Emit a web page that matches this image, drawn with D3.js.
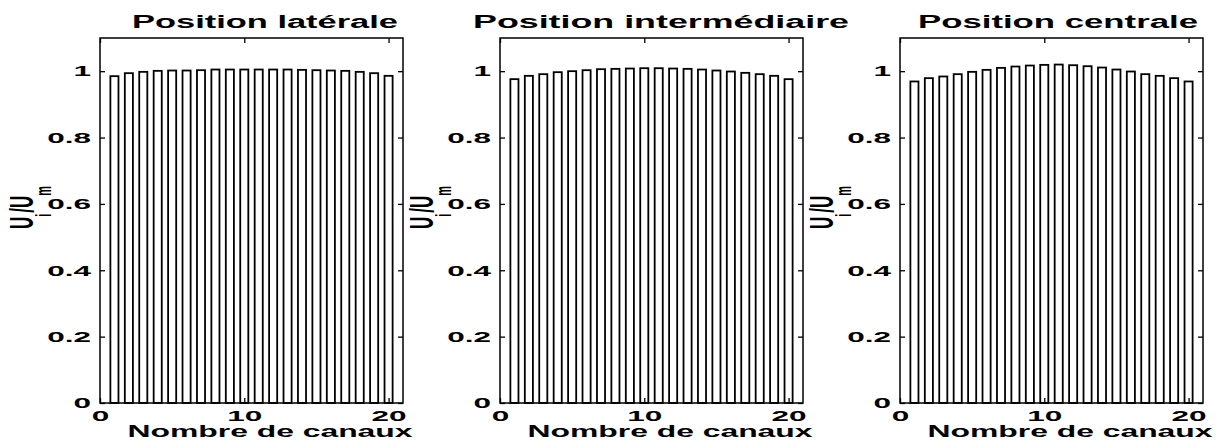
<!DOCTYPE html>
<html><head><meta charset="utf-8">
<script src="https://cdn.jsdelivr.net/npm/d3@7"></script>
<style>
body{margin:0;background:#fff}
svg text{font-family:"Liberation Sans",Arial,Helvetica,sans-serif;font-weight:bold;fill:#000}
</style></head>
<body><svg id="c" width="1220" height="443"></svg>
<script>
// ---- data ----
const channels = [1,2,3,4,5,6,7,8,9,10,11,12,13,14,15,16,17,18,19,20];
const lateral = [0.985,0.994,0.998,1.001,1.002,1.002,1.003,1.005,1.005,1.005,1.005,1.005,1.005,1.004,1.003,1.002,1.001,0.998,0.994,0.986];
const intermediate = [0.976,0.986,0.991,0.997,1.000,1.003,1.006,1.007,1.008,1.009,1.009,1.008,1.007,1.005,1.002,0.999,0.995,0.991,0.986,0.976];
const central = [0.969,0.979,0.984,0.991,0.998,1.004,1.010,1.014,1.017,1.019,1.020,1.018,1.015,1.011,1.005,0.999,0.991,0.986,0.979,0.969];
const titles = ["Position latérale","Position intermédiaire","Position centrale"];
const xLabel = "Nombre de canaux";
const xTicks = [0,10,20];
const yTicks = [0,0.2,0.4,0.6,0.8,1];

// ---- layout ----
const series = [lateral, intermediate, central];
const lefts = [100,500,900];
const titleCx = [265,661,1058];
const titleW = [266,376,280];
const W = 303, TOP = 38, BOT = 403, SX = 2.1;

const svg = d3.select("#c");
const x = d3.scaleLinear().domain([0,21]).range([0,W]);
const y = d3.scaleLinear().domain([0,1.1]).range([BOT,TOP]);
const bw = 0.56;

series.forEach((vals,i)=>{
  const g = svg.append("g").attr("transform",`translate(${lefts[i]},0)`);
  const data = channels.map((c,k)=>({c, v:vals[k]}));
  g.selectAll("rect.bar").data(data).join("rect").attr("class","bar")
    .attr("x",d=>x(d.c-bw/2)).attr("width",x(bw)-x(0))
    .attr("y",d=>y(d.v)).attr("height",d=>y(0)-y(d.v))
    .attr("fill","#fff").attr("stroke","#000").attr("stroke-width",1.8);

  const styleAxis = a => { a.select(".domain").remove(); a.selectAll("line").attr("stroke","#000").attr("stroke-width",1.3); };

  const ab = g.append("g").attr("transform",`translate(0,${BOT})`)
    .call(d3.axisBottom(x).tickValues(xTicks).tickSize(-5).tickPadding(7).tickFormat(d3.format("d")));
  styleAxis(ab);
  ab.selectAll("text").style("font-size","15px").attr("transform",`scale(${SX},1)`);

  const at = g.append("g").attr("transform",`translate(0,${TOP})`)
    .call(d3.axisTop(x).tickValues(xTicks).tickSize(-5).tickFormat(""));
  styleAxis(at);

  const al = g.append("g")
    .call(d3.axisLeft(y).tickValues(yTicks).tickSize(-5).tickPadding(9).tickFormat(d3.format("~g")));
  styleAxis(al);
  al.selectAll("text").style("font-size","15px").attr("x",-9/SX).attr("transform",`scale(${SX},1)`);

  const ar = g.append("g").attr("transform",`translate(${W},0)`)
    .call(d3.axisRight(y).tickValues(yTicks).tickSize(-5).tickFormat(""));
  styleAxis(ar);

  g.append("rect").attr("x",0).attr("y",TOP).attr("width",W).attr("height",BOT-TOP)
    .attr("fill","none").attr("stroke","#000").attr("stroke-width",1.5);

  // title
  svg.append("text").attr("x",titleCx[i]).attr("y",28).attr("text-anchor","middle")
    .style("font-size","18px").attr("textLength",titleW[i]).attr("lengthAdjust","spacingAndGlyphs")
    .text(titles[i]);
  // x label
  svg.append("text").attr("x",lefts[i]+170).attr("y",437).attr("text-anchor","middle")
    .style("font-size","16px").attr("textLength",285).attr("lengthAdjust","spacingAndGlyphs")
    .text(xLabel);
  // y label
  const yl = svg.append("g").attr("transform",`translate(${lefts[i]-67},229) scale(2,1) rotate(-90)`)
    .append("text").attr("x",0).attr("y",0).style("font-size","17px");
  yl.append("tspan").text("U");
  yl.append("tspan").attr("dy",9).style("font-size","11px").text("i");
  yl.append("tspan").attr("dy",-9).attr("dx",1).text("/U");
  yl.append("tspan").attr("dy",9).style("font-size","11px").text("m");
});
</script></body></html>
